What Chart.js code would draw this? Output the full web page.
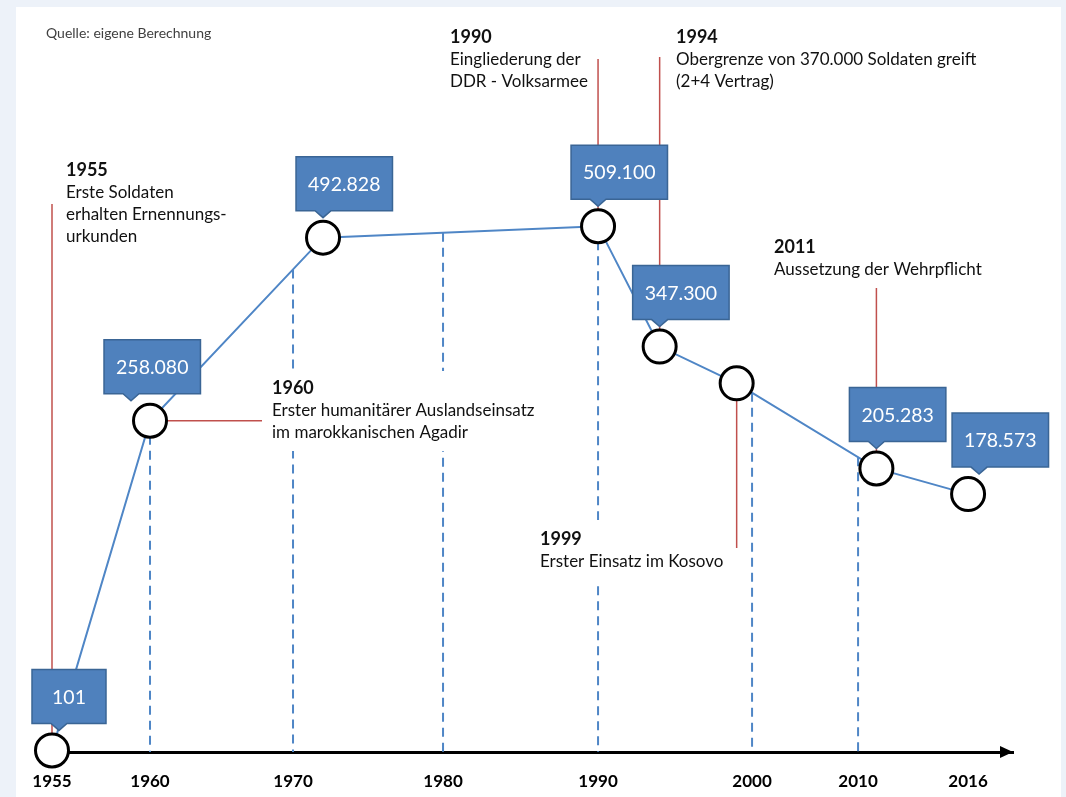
<!DOCTYPE html>
<html lang="de">
<head>
<meta charset="utf-8">
<title>Personalstärke der Bundeswehr 1955–2016</title>
<script src="https://cdn.jsdelivr.net/npm/chart.js@4.4.1/dist/chart.umd.min.js"></script>
<style>
  html, body { margin:0; padding:0; background:#edf2f9; }
  #sheet { position:absolute; left:16px; top:7px; width:1045px; height:790px; background:#fff; }
  #wrap  { position:absolute; left:0; top:0; width:1066px; height:797px; }
</style>
</head>
<body>
<div id="sheet"></div>
<div id="wrap"><canvas id="strength" width="1066" height="797"></canvas></div>
<script>
// --- Daten: Soldaten je Jahr ---
var years    = [1955, 1960, 1972, 1990, 1994, 1999, 2011, 2016];
var soldiers = [101, 258080, 492828, 509100, 347300, 302000, 205283, 178573];
var valueLabels = ['101', '258.080', '492.828', '509.100', '347.300', null, '205.283', '178.573'];
var tickYears = [1955, 1960, 1970, 1980, 1990, 2000, 2010, 2016];
var dashedYears = [1960, 1970, 1980, 1990, 2000, 2010];

// --- Ereignisse ---
var eventYears  = [1955, 1960, 1990, 1994, 1999, 2011];
var eventTitles = ['1955', '1960', '1990', '1994', '1999', '2011'];
var eventTexts  = [
  ['Erste Soldaten', 'erhalten Ernennungs-', 'urkunden'],
  ['Erster humanitärer Auslandseinsatz', 'im marokkanischen Agadir'],
  ['Eingliederung der', 'DDR - Volksarmee'],
  ['Obergrenze von 370.000 Soldaten greift', '(2+4 Vertrag)'],
  ['Erster Einsatz im Kosovo'],
  ['Aussetzung der Wehrpflicht']
];

// --- Layout (die Zeitachse im Original ist nicht maßstäblich) ---
var tickGaps = [98, 143, 150, 155, 154, 106, 110];
var eventLayout = [
  {x:66,  y:170, lead:'v', to:204},
  {x:272, y:388, lead:'h', to:262, box:[262, 371, 296, 80]},
  {x:450, y:37,  lead:'v', to:59},
  {x:676, y:37,  lead:'v', to:57},
  {x:540, y:539, lead:'v', to:548, box:[530, 520, 196, 62]},
  {x:774, y:247, lead:'v', to:288}
];
var calloutShift = [7, -19, 0, 0, 0, 0, 0, 11];
var FONT = "Lato, 'Open Sans', sans-serif";
var BLUE = '#4f86c6';
var RED  = '#c0504d';
var EXP  = 0.68;

function warp(v){
  var u = 0;
  for (var i = 0; i < tickGaps.length; i++){
    var a = tickYears[i], b = tickYears[i+1];
    if (v <= b || i === tickGaps.length - 1) return u + (v - a) / (b - a) * tickGaps[i];
    u += tickGaps[i];
  }
}
function unwarp(u){
  var acc = 0;
  for (var i = 0; i < tickGaps.length; i++){
    if (u <= acc + tickGaps[i] || i === tickGaps.length - 1)
      return tickYears[i] + (u - acc) / tickGaps[i] * (tickYears[i+1] - tickYears[i]);
    acc += tickGaps[i];
  }
}

class TimelineScale extends Chart.LinearScale {
  static id = 'timeline';
  static defaults = {};
  getPixelForValue(v){
    var a = warp(this.min), b = warp(this.max);
    return this.getPixelForDecimal((warp(v) - a) / (b - a));
  }
  getValueForPixel(p){
    var a = warp(this.min), b = warp(this.max);
    return unwarp(a + this.getDecimalForPixel(p) * (b - a));
  }
}
class PowerScale extends Chart.LinearScale {
  static id = 'power';
  static defaults = {};
  getPixelForValue(v){
    var t = Math.max((v - this.min) / (this.max - this.min), 0);
    return this.getPixelForDecimal(Math.pow(t, EXP));
  }
  getValueForPixel(p){
    return this.min + Math.pow(this.getDecimalForPixel(p), 1 / EXP) * (this.max - this.min);
  }
}
Chart.register(TimelineScale, PowerScale);

function lineYAt(pts, x){
  for (var i = 0; i < pts.length - 1; i++){
    var p = pts[i], q = pts[i+1];
    if (x >= p.x && x <= q.x) return p.y + (x - p.x) / (q.x - p.x) * (q.y - p.y);
  }
  return pts[pts.length-1].y;
}

var backdrop = {
  id:'backdrop',
  beforeDatasetsDraw: function(chart){
    var ctx = chart.ctx, xs = chart.scales.x, area = chart.chartArea;
    var pts = chart.getDatasetMeta(0).data;
    ctx.save();

    ctx.fillStyle = '#404040';
    ctx.font = '14px ' + FONT;
    ctx.textBaseline = 'middle';
    ctx.fillText('Quelle: eigene Berechnung', 46, 33);

    // gestrichelte Jahreslinien
    ctx.strokeStyle = BLUE; ctx.lineWidth = 2; ctx.setLineDash([9, 6]);
    dashedYears.forEach(function(yr){
      var x = xs.getPixelForValue(yr);
      ctx.beginPath();
      ctx.moveTo(x, lineYAt(pts, x));
      ctx.lineTo(x, area.bottom);
      ctx.stroke();
    });
    ctx.setLineDash([]);

    // Ereignistexte
    eventYears.forEach(function(yr, i){
      var L = eventLayout[i];
      if (L.box){ ctx.fillStyle = '#fff'; ctx.fillRect(L.box[0], L.box[1], L.box[2], L.box[3]); }
      ctx.fillStyle = '#111';
      ctx.textAlign = 'left';
      ctx.font = 'bold 18px ' + FONT;
      ctx.fillText(eventTitles[i], L.x, L.y);
      ctx.font = '17px ' + FONT;
      eventTexts[i].forEach(function(t, j){ ctx.fillText(t, L.x, L.y + 23 + j * 22); });
    });

    // rote Verbindungslinien
    ctx.strokeStyle = RED; ctx.lineWidth = 1.5;
    eventYears.forEach(function(yr, i){
      var L = eventLayout[i], p = pts[years.indexOf(yr)];
      ctx.beginPath();
      if (L.lead === 'h'){ ctx.moveTo(p.x, p.y); ctx.lineTo(L.to, p.y); }
      else { ctx.moveTo(p.x, L.to); ctx.lineTo(p.x, p.y); }
      ctx.stroke();
    });
    ctx.restore();
  },
  afterDatasetsDraw: function(chart){
    var ctx = chart.ctx, pts = chart.getDatasetMeta(0).data;
    ctx.save();
    ctx.font = '19.5px ' + FONT;
    ctx.textAlign = 'center'; ctx.textBaseline = 'middle';
    pts.forEach(function(p, i){
      var txt = valueLabels[i];
      if (!txt) return;
      var tipX = p.x + calloutShift[i], tipY = p.y - 20;
      var w = Math.max(74, ctx.measureText(txt).width + 24), h = 54;
      var left = tipX - 27, bottom = tipY - 7, top = bottom - h;
      ctx.beginPath();
      ctx.moveTo(left, top); ctx.lineTo(left + w, top); ctx.lineTo(left + w, bottom);
      ctx.lineTo(tipX + 8, bottom); ctx.lineTo(tipX, tipY); ctx.lineTo(tipX - 8, bottom);
      ctx.lineTo(left, bottom); ctx.closePath();
      ctx.fillStyle = '#4f81bd'; ctx.fill();
      ctx.strokeStyle = '#3a6595'; ctx.lineWidth = 1.5; ctx.stroke();
      ctx.fillStyle = '#fff';
      ctx.fillText(txt, left + w / 2, top + h / 2 + 1);
    });
    ctx.restore();
  },
  afterDraw: function(chart){
    var ctx = chart.ctx, a = chart.chartArea;
    ctx.save();
    ctx.fillStyle = '#000';
    ctx.beginPath();
    ctx.moveTo(a.right - 13, a.bottom - 6);
    ctx.lineTo(a.right, a.bottom);
    ctx.lineTo(a.right - 13, a.bottom + 6);
    ctx.closePath(); ctx.fill();
    ctx.restore();
  }
};

new Chart(document.getElementById('strength'), {
  type:'line',
  data:{
    datasets:[{
      data: years.map(function(y, i){ return {x:y, y:soldiers[i]}; }),
      borderColor: BLUE, borderWidth: 2, tension: 0,
      pointRadius: 16.5, pointBorderWidth: 3,
      pointBorderColor: '#000', pointBackgroundColor: '#fff',
      clip: false
    }]
  },
  options:{
    responsive:false,
    animation:false,
    layout:{padding:{left:52, right:53, top:164, bottom:0}},
    plugins:{legend:{display:false}, tooltip:{enabled:false}},
    scales:{
      x:{
        type:'timeline', min:1955, max:2018.45,
        afterBuildTicks:function(s){ s.ticks = tickYears.map(function(v){ return {value:v}; }); },
        afterFit:function(s){ s.height = 45; },
        grid:{display:false, drawTicks:false},
        border:{display:true, color:'#000', width:3},
        ticks:{
          autoSkip:false, maxRotation:0, minRotation:0, padding:19,
          color:'#000', font:{family:FONT, size:17, weight:'bold'},
          callback:function(v){ return String(v); }
        }
      },
      y:{type:'power', min:0, max:600000, display:false}
    }
  },
  plugins:[backdrop]
});
</script>
</body>
</html>
